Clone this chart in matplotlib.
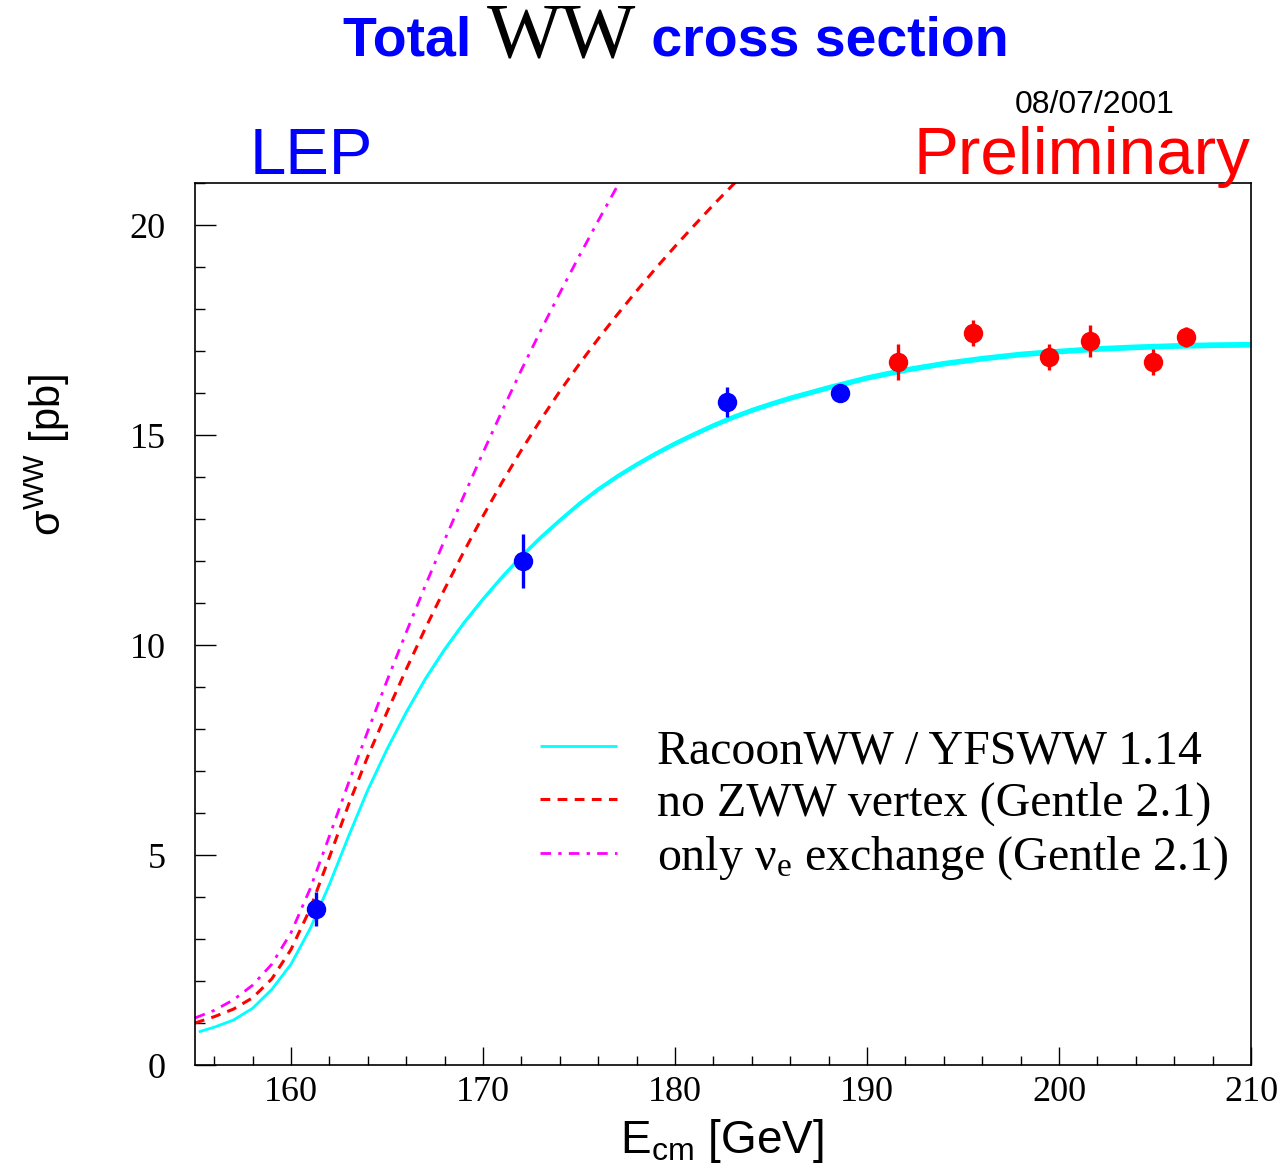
import matplotlib
matplotlib.use("Agg")
import matplotlib.pyplot as plt
import numpy as np
from matplotlib.ticker import MultipleLocator

# ---------------- data ----------------
# RacoonWW / YFSWW 1.14 prediction
racoon_x = [155.2, 156, 157, 158, 159, 160, 161, 162, 163, 164, 165, 166, 167, 168,
            169, 170, 171, 172, 173, 174, 175, 176, 177, 178, 179, 180, 181, 182, 183,
            184, 185, 186, 188, 190, 192, 194, 196, 198, 200, 202, 204, 206, 208, 210]
racoon_y = [0.79, 0.9, 1.07, 1.35, 1.8, 2.4, 3.25, 4.3, 5.45, 6.55, 7.52, 8.4, 9.2, 9.9,
            10.53, 11.1, 11.63, 12.12, 12.57, 12.98, 13.37, 13.72, 14.03, 14.31, 14.57,
            14.81, 15.03, 15.24, 15.43, 15.6, 15.75, 15.89, 16.14, 16.37, 16.56, 16.71,
            16.83, 16.93, 17.0, 17.06, 17.1, 17.13, 17.15, 17.16]

# no ZWW vertex (Gentle 2.1)
nozww_x = [155, 156, 157, 158, 159, 160, 161, 162, 163, 164, 165, 166, 167, 168, 169,
           170, 171, 172, 173, 174, 175, 176, 177, 178, 179, 180, 181, 182, 183, 184]
nozww_y = [1.0, 1.15, 1.33, 1.6, 2.05, 2.75, 3.72, 4.95, 6.2, 7.35, 8.4, 9.42, 10.4,
           11.33, 12.22, 13.07, 13.88, 14.64, 15.36, 16.04, 16.68, 17.29, 17.87, 18.43,
           18.97, 19.49, 19.99, 20.48, 20.95, 21.41]

# only nu_e exchange (Gentle 2.1)
nue_x = [155, 156, 157, 158, 159, 160, 161, 162, 163, 164, 165, 166, 167, 168,
         169, 170, 171, 172, 173, 174, 175, 176, 177, 178]
nue_y = [1.12, 1.3, 1.55, 1.9, 2.4, 3.15, 4.2, 5.45, 6.72, 7.95, 9.15, 10.3, 11.42,
         12.5, 13.55, 14.58, 15.58, 16.55, 17.48, 18.38, 19.25, 20.1, 20.93, 21.75]

# LEP measurements (published, blue)
lep_x = [161.3, 172.1, 182.7, 188.6]
lep_y = [3.71, 12.0, 15.79, 16.0]
lep_err = [0.40, 0.64, 0.36, 0.20]

# LEP measurements (preliminary, red)
prel_x = [191.6, 195.5, 199.5, 201.6, 204.9, 206.6]
prel_y = [16.74, 17.43, 16.86, 17.24, 16.74, 17.33]
prel_err = [0.43, 0.32, 0.31, 0.39, 0.30, 0.24]

legend_labels = ["RacoonWW / YFSWW 1.14",
                 "no ZWW vertex (Gentle 2.1)",
                 r"only $\mathregular{\nu_e}$ exchange (Gentle 2.1)"]

xticks = [160, 170, 180, 190, 200, 210]
yticks = [0, 5, 10, 15, 20]

# ---------------- figure ----------------
W, H = 1288, 1168
fig = plt.figure(figsize=(W / 100, H / 100), dpi=100)
ax = fig.add_axes([195 / W, 1 - 1065 / H, (1251 - 195) / W, (1065 - 183) / H])

SERIF = "Liberation Serif"
SANS = "Liberation Sans"

rx = np.array(racoon_x)
ry = np.array(racoon_y)
ax.fill_between(rx, ry * 0.996, ry * 1.004, color="#00ffff", lw=0, zorder=2)
l1, = ax.plot(rx, ry, color="#00ffff", lw=2.0, zorder=2, solid_capstyle="butt",
              solid_joinstyle="round")
l2, = ax.plot(nozww_x, nozww_y, color="#ff0000", lw=2.2, dashes=(3.2, 2.4), zorder=2)
l3, = ax.plot(nue_x, nue_y, color="#ff00ff", lw=2.0, dashes=(3.8, 2.6, 1.2, 2.6), zorder=2)

ax.errorbar(lep_x, lep_y, yerr=lep_err, fmt="o", color="#0000ff", ms=14,
            elinewidth=2.4, capsize=0, mew=0, zorder=4)
ax.errorbar(prel_x, prel_y, yerr=prel_err, fmt="o", color="#ff0000", ms=14,
            elinewidth=2.4, capsize=0, mew=0, zorder=4)

ax.set_xlim(155, 210)
ax.set_ylim(0, 21)
ax.set_xticks(xticks)
ax.set_yticks(yticks)
ax.xaxis.set_minor_locator(MultipleLocator(2))
ax.yaxis.set_minor_locator(MultipleLocator(1))
ax.tick_params(which="both", direction="in", top=False, right=False, width=1.0)
ax.tick_params(axis="y", which="major", length=15, pad=21)
ax.tick_params(axis="y", which="minor", length=7)
ax.tick_params(axis="x", which="major", length=13, pad=8)
ax.tick_params(axis="x", which="minor", length=6.5)
for lab in ax.get_xticklabels() + ax.get_yticklabels():
    lab.set_fontfamily(SERIF)
    lab.set_fontsize(26)
for sp in ax.spines.values():
    sp.set_linewidth(1.2)

leg = ax.legend([l1, l2, l3], legend_labels, loc="upper left",
                bbox_to_anchor=((540 - 195) / 1056, (1065 - 729) / 882),
                frameon=False, borderpad=0, borderaxespad=0,
                handlelength=1.6, handletextpad=0.85, labelspacing=0.18,
                prop={"family": SERIF, "size": 34.5})

fig.text(722 / W, 1 - 1153 / H, r"$\mathregular{E_{cm}}$ [GeV]", ha="center",
         va="baseline", fontfamily=SANS, fontsize=33)
fig.text(47 / W, 1 - 455 / H, r"$\mathregular{\sigma^{WW}}$ [pb]", rotation=90,
         ha="center", va="center", fontfamily=SANS, fontsize=30)

# ---------------- header texts ----------------
fig.text(1175 / W, 1 - 113 / H, "08/07/2001", ha="right", va="baseline",
         fontfamily=SANS, fontsize=23)
fig.text(250 / W, 1 - 174 / H, "LEP", ha="left", va="baseline",
         color="#0000ff", fontfamily=SANS, fontsize=47)
fig.text(1250 / W, 1 - 174 / H, "Preliminary", ha="right", va="baseline",
         color="#ff0000", fontfamily=SANS, fontsize=48.5)

# Title built from three pieces
ybase = 1 - 56 / H
t1 = fig.text(0, ybase, "Total ", color="#0000ff", fontfamily=SANS,
              fontweight="bold", fontsize=40, va="baseline")
t2 = fig.text(0, ybase, "WW", color="black", fontfamily=SERIF, fontsize=57, va="baseline")
t3 = fig.text(0, ybase, " cross section", color="#0000ff", fontfamily=SANS,
              fontweight="bold", fontsize=40, va="baseline")
fig.canvas.draw()
r = fig.canvas.get_renderer()
ws = [t.get_window_extent(r).width for t in (t1, t2, t3)]
total = sum(ws)
x0 = 676 - total / 2
for t, w in zip((t1, t2, t3), ws):
    t.set_x(x0 / W)
    x0 += w

fig.savefig("out.png", dpi=100)
